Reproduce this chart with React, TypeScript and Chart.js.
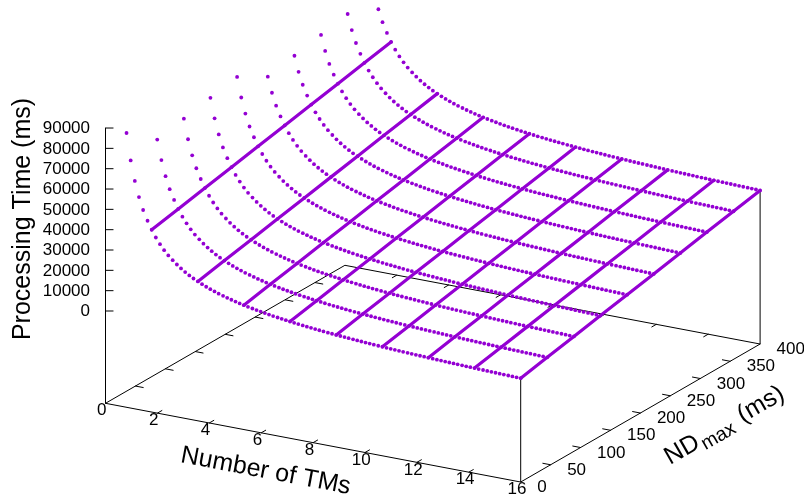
import React, { useEffect, useRef } from "react";
import { Chart, registerables } from "chart.js";

Chart.register(...registerables);

// Number of TMs at each sample along a curve
const tmSamples = [
  0.81, 0.97, 1.13, 1.29, 1.45, 1.62, 1.78, 1.94, 2.1, 2.26, 2.42, 2.59, 2.75, 2.91, 3.07, 3.23, 3.39, 3.56, 3.72, 3.88,
  4.04, 4.2, 4.36, 4.53, 4.69, 4.85, 5.01, 5.17, 5.33, 5.49, 5.66, 5.82, 5.98, 6.14, 6.3, 6.46, 6.63, 6.79, 6.95, 7.11,
  7.27, 7.43, 7.6, 7.76, 7.92, 8.08, 8.24, 8.4, 8.57, 8.73, 8.89, 9.05, 9.21, 9.37, 9.54, 9.7, 9.86, 10.02, 10.18, 10.34,
  10.51, 10.67, 10.83, 10.99, 11.15, 11.31, 11.47, 11.64, 11.8, 11.96, 12.12, 12.28, 12.44, 12.61, 12.77, 12.93, 13.09,
  13.25, 13.41, 13.57, 13.74, 13.9, 14.06, 14.22, 14.38, 14.55, 14.71, 14.87, 15.03, 15.19, 15.35, 15.52, 15.68, 15.84, 16,
];
// Processing time (ms) at NDmax = 0 for each sample above
const timeAtZeroNd = [
  89520, 76430, 66700, 59180, 53200, 48320, 44270, 40850, 37930, 35400, 33190, 31250, 29520, 27970, 26590, 25330, 24190,
  23160, 22200, 21330, 20520, 19780, 19090, 18440, 17840, 17270, 16750, 16250, 15780, 15350, 14930, 14540, 14170, 13820,
  13480, 13160, 12860, 12570, 12300, 12030, 11780, 11540, 11310, 11090, 10870, 10670, 10470, 10280, 10100, 9930, 9760,
  9600, 9440, 9290, 9140, 9000, 8860, 8730, 8600, 8470, 8350, 8230, 8120, 8010, 7900, 7800, 7700, 7600, 7500, 7410, 7320,
  7230, 7140, 7060, 6970, 6900, 6820, 6740, 6670, 6590, 6520, 6450, 6390, 6320, 6250, 6190, 6130, 6070, 6010, 5950, 5890,
  5840, 5780, 5730, 5670,
];
// NDmax level of each dotted curve and the time it adds (ms)
const ndLevels = [0, 44.4, 88.9, 133.3, 177.8, 222.2, 266.7, 311.1, 355.6, 400];
const ndAddedTime = [0, 2720, 5440, 8170, 10890, 13600, 16330, 19060, 21780, 24500];
// TM counts where the solid lines run
const isoTms = [1.78, 3.56, 5.33, 7.11, 8.89, 10.67, 12.44, 14.22, 16];

const tmTicks = [0, 2, 4, 6, 8, 10, 12, 14, 16];
const ndTicks = [0, 50, 100, 150, 200, 250, 300, 350, 400];
const zTicks = [0, 10000, 20000, 30000, 40000, 50000, 60000, 70000, 80000, 90000];
const zMax = 90000;
const zFloor = -45400;
const TM_MAX = 16;
const ND_MAX = 400;

const PURPLE = "#9400d3";
const FONT = '"Liberation Sans", Arial, sans-serif';

// gnuplot-style orthographic view of (TMs, NDmax, time)
const project = (tm: number, nd: number, z: number) => ({
  x: 105.5 + 25.95 * tm + 0.5985 * nd,
  y: 311 + 4.92 * tm - 0.345 * nd - z * 0.002033,
});

const line = (points: { x: number; y: number }[], color: string, width: number) => ({
  type: "scatter" as const,
  data: points,
  showLine: true,
  borderColor: color,
  borderWidth: width,
  pointRadius: 0,
  borderCapStyle: "round" as const,
  clip: false as const,
});

function buildDatasets() {
  const sets: any[] = [];
  const grid = ndLevels.map((_, k) => timeAtZeroNd.map((t) => t + ndAddedTime[k]));
  // dotted curves, cut at the top of the z range
  ndLevels.forEach((nd, k) => {
    const pts: { x: number; y: number }[] = [];
    tmSamples.forEach((tm, i) => {
      if (grid[k][i] <= zMax) pts.push(project(tm, nd, grid[k][i]));
    });
    sets.push({
      type: "scatter",
      data: pts,
      showLine: false,
      pointRadius: 1.9,
      pointBorderWidth: 0,
      pointBackgroundColor: PURPLE,
      clip: false,
    });
  });
  // solid lines
  isoTms.forEach((tm) => {
    const i = tmSamples.indexOf(tm);
    sets.push(line(ndLevels.map((nd, k) => project(tm, nd, grid[k][i])), PURPLE, 3.2));
  });
  // box and axes
  const black = "#000000";
  const c = (tm: number, nd: number, z = zFloor) => project(tm, nd, z);
  sets.push(line([c(0, 0), c(TM_MAX, 0), c(TM_MAX, ND_MAX), c(0, ND_MAX), c(0, 0)], black, 1));
  sets.push(line([c(0, 0), c(0, 0, zMax)], black, 1));
  sets.push(line([c(TM_MAX, 0), c(TM_MAX, 0, grid[0][tmSamples.length - 1])], black, 1));
  sets.push(line([c(TM_MAX, ND_MAX), c(TM_MAX, ND_MAX, grid[9][tmSamples.length - 1])], black, 1));
  tmTicks.slice(1, -1).forEach((t) => {
    sets.push(line([c(t, 0), c(t, 7.5)], black, 1));
    sets.push(line([c(t, ND_MAX), c(t, ND_MAX - 7.5)], black, 1));
  });
  ndTicks.slice(1, -1).forEach((n) => {
    sets.push(line([c(0, n), c(0.3, n)], black, 1));
    sets.push(line([c(TM_MAX, n), c(TM_MAX - 0.3, n)], black, 1));
  });
  zTicks.forEach((z) => {
    sets.push(line([project(0, 0, z), project(0.22, 3.14, z)], black, 1));
  });
  return sets;
}

const textPlugin = {
  id: "axisText",
  afterDraw(chart: any) {
    const ctx: CanvasRenderingContext2D = chart.ctx;
    ctx.save();
    ctx.fillStyle = "#000";
    ctx.font = `17px ${FONT}`;
    ctx.textBaseline = "middle";
    ctx.textAlign = "right";
    zTicks.forEach((z) => {
      const p = project(0, 0, z);
      ctx.fillText(String(z), 90, p.y + 0.5);
    });
    ctx.textAlign = "center";
    tmTicks.forEach((t) => {
      const p = project(t, 0, zFloor);
      ctx.fillText(String(t), p.x - 3.7, p.y + 7.5);
    });
    ctx.textAlign = "left";
    ndTicks.forEach((n) => {
      const p = project(TM_MAX, n, zFloor);
      ctx.fillText(String(n), p.x + 16.5, p.y + 5.5);
    });

    ctx.textBaseline = "alphabetic";
    ctx.textAlign = "center";
    ctx.font = `25px ${FONT}`;
    ctx.save();
    ctx.translate(30, 219);
    ctx.rotate(-Math.PI / 2);
    ctx.fillText("Processing Time (ms)", 0, 0);
    ctx.restore();

    ctx.save();
    ctx.translate(264.5, 478);
    ctx.rotate((10.7 * Math.PI) / 180);
    ctx.fillText("Number of TMs", 0, 0);
    ctx.restore();

    ctx.save();
    ctx.translate(670, 465);
    ctx.rotate((-30 * Math.PI) / 180);
    ctx.textAlign = "left";
    ctx.font = `25px ${FONT}`;
    ctx.fillText("ND", 0, 0);
    ctx.font = `19.5px ${FONT}`;
    ctx.fillText("max", 38, 5);
    ctx.font = `25px ${FONT}`;
    ctx.fillText("(ms)", 84, 0);
    ctx.restore();
    ctx.restore();
  },
};

export default function App() {
  const ref = useRef<HTMLCanvasElement>(null);
  useEffect(() => {
    document.body.style.margin = "0";
    const chart = new Chart(ref.current!, {
      type: "scatter",
      data: { datasets: buildDatasets() },
      options: {
        animation: false,
        responsive: false,
        layout: { padding: 0, autoPadding: false },
        plugins: { legend: { display: false }, tooltip: { enabled: false }, title: { display: false } },
        scales: {
          x: { type: "linear", min: 0, max: 804, display: false },
          y: { type: "linear", min: 0, max: 500, reverse: true, display: false },
        },
      },
      plugins: [textPlugin],
    });
    return () => chart.destroy();
  }, []);
  return <canvas ref={ref} width={804} height={500} style={{ display: "block", width: 804, height: 500 }} />;
}
